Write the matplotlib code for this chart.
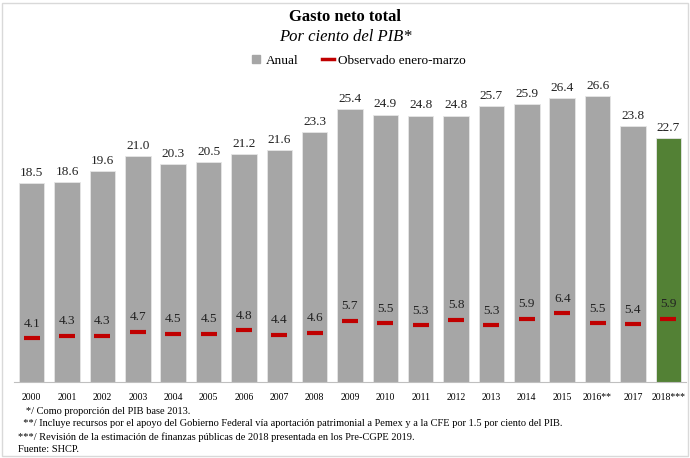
import numpy as np
import matplotlib.pyplot as plt
from matplotlib.lines import Line2D
from matplotlib.patches import Rectangle

plt.rcParams['font.family'] = ['Liberation Serif', 'DejaVu Serif']

years = ['2000', '2001', '2002', '2003', '2004', '2005', '2006', '2007', '2008',
         '2009', '2010', '2011', '2012', '2013', '2014', '2015', '2016**',
         '2017', '2018***']
anual = [18.5, 18.6, 19.6, 21.0, 20.3, 20.5, 21.2, 21.6, 23.3,
         25.4, 24.9, 24.8, 24.8, 25.7, 25.9, 26.4, 26.6, 23.8, 22.7]
ene_mar = [4.1, 4.3, 4.3, 4.7, 4.5, 4.5, 4.8, 4.4, 4.6,
           5.7, 5.5, 5.3, 5.8, 5.3, 5.9, 6.4, 5.5, 5.4, 5.9]
notes = [
    '   */ Como proporción del PIB base 2013.',
    '  **/ Incluye recursos por el apoyo del Gobierno Federal vía aportación patrimonial a Pemex y a la CFE por 1.5 por ciento del PIB.',
    '***/ Revisión de la estimación de finanzas públicas de 2018 presentada en los Pre-CGPE 2019.',
    'Fuente: SHCP.',
]

gray = '#A6A6A6'
green = '#538135'
red = '#C00000'

fig = plt.figure(figsize=(6.9, 4.58), dpi=100)
ax = fig.add_axes([14 / 690, 1 - 382 / 458, 672 / 690, 304 / 458])

x = np.arange(len(years))
colors = [gray] * (len(years) - 1) + [green]
ax.bar(x, anual, width=0.72, color=colors, edgecolor='#E6E6E6', linewidth=0.6)
ax.scatter(x, ene_mar, marker='_', s=140, linewidths=3, color=red, zorder=3)

for xi, a, e in zip(x, anual, ene_mar):
    ax.annotate(f'{a:.1f}', (xi, a), xytext=(0, 3), textcoords='offset points',
                ha='center', va='bottom', fontsize=9.5, color='#222222')
    ax.annotate(f'{e:.1f}', (xi, e), xytext=(0, 6), textcoords='offset points',
                ha='center', va='bottom', fontsize=9.5, color='#222222')

ax.set_xlim(-0.5, len(years) - 0.5)
ax.set_ylim(0, 28.3)
ax.set_xticks(x)
ax.set_xticklabels(years, fontsize=7)
ax.tick_params(axis='x', length=0, pad=8)
ax.set_yticks([])
for s in ['top', 'right', 'left']:
    ax.spines[s].set_visible(False)
ax.spines['bottom'].set_color('#BFBFBF')

fig.text(0.5, 1 - 17 / 458, 'Gasto neto total', ha='center', va='center',
         fontsize=12, fontweight='bold')
fig.text(0.5, 1 - 37 / 458, 'Por ciento del PIB*', ha='center', va='center',
         fontsize=12, style='italic')

handles = [
    Line2D([], [], marker='s', linestyle='none', color=gray, markersize=6),
    Line2D([], [], color=red, linewidth=2.5),
]
fig.legend(handles, ['Anual', 'Observado enero-marzo'], loc='center',
           bbox_to_anchor=(358 / 690, 1 - 61 / 458), ncol=2, frameon=False,
           fontsize=9.5, handlelength=0.9, handletextpad=0.3, columnspacing=1.8)

for i, n in enumerate(notes):
    fig.text(18 / 690, 1 - (411 + i * 13) / 458, n, ha='left', va='center',
             fontsize=7.5)

fig.add_artist(Rectangle((0.003, 0.004), 0.994, 0.99, transform=fig.transFigure,
                         fill=False, edgecolor='#D9D9D9', linewidth=1))

fig.savefig('out.png', dpi=100)
